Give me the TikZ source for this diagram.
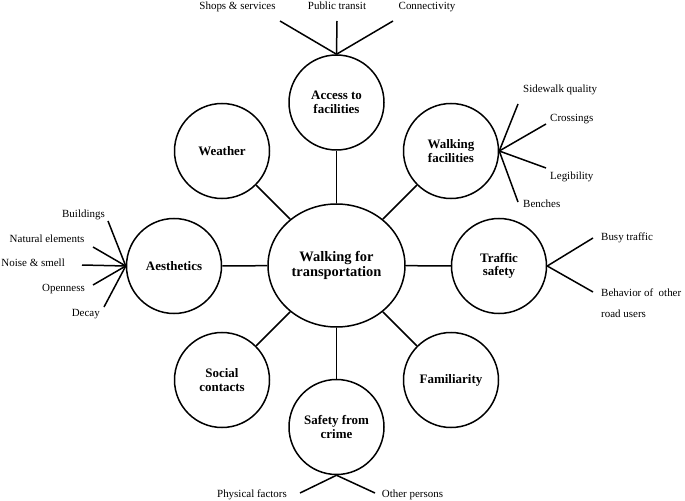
\documentclass[tikz,border=0pt]{standalone}
\usepackage{fontspec}
\setmainfont{Liberation Serif}
\usetikzlibrary{shapes.geometric}
\begin{document}
\begin{tikzpicture}[x=1bp,y=-1bp,
 factor/.style={circle,draw,line width=1.5bp,minimum size=95bp,inner sep=0pt,align=center,font=\fontsize{13}{13.5}\selectfont\bfseries},
 hub/.style={ellipse,draw,line width=1.5bp,minimum width=137bp,minimum height=123bp,inner sep=0pt,align=center,font=\fontsize{14.5}{15}\selectfont\bfseries},
 link/.style={line width=1.5bp},
 leaf/.style={font=\fontsize{11}{12}\selectfont,inner sep=0pt}]
\useasboundingbox (0,0) rectangle (685,501);

% hub and factors
\node[hub] (hub) at (336.5,265.5) {Walking for\\transportation};
\node[factor] (acc) at (336.5,102.5) {Access to\\facilities};
\node[factor] (wea) at (222,151) {Weather};
\node[factor] (wf) at (451,151) {Walking\\facilities};
\node[factor] (aes) at (174,266) {Aesthetics};
\node[factor] (ts) at (499,266) {Traffic\\safety};
\node[factor] (soc) at (222,380) {Social\\contacts};
\node[factor] (fam) at (451,380) {Familiarity};
\node[factor] (sfc) at (336.5,427) {Safety from\\crime};

\foreach \n in {acc,wea,wf,aes,ts,soc,fam,sfc}
  \draw[link] (hub) -- (\n);

% access to facilities
\coordinate (a1) at (280,21);
\coordinate (a2) at (337,21);
\coordinate (a3) at (393,21);
\foreach \c in {a1,a2,a3} \draw[link] (acc.north) -- (\c);
\node[leaf,anchor=base] (la1) at (237.5,9.5) {Shops \& services};
\node[leaf,anchor=base] (la2) at (337,9.5) {Public transit};
\node[leaf,anchor=base] (la3) at (427,9.5) {Connectivity};

% walking facilities
\coordinate (w1) at (518,104);
\coordinate (w2) at (546,124);
\coordinate (w3) at (546,168);
\coordinate (w4) at (518,202);
\foreach \c in {w1,w2,w3,w4} \draw[link] (wf.east) -- (\c);
\node[leaf,anchor=base west] (lw1) at (523,93) {Sidewalk quality};
\node[leaf,anchor=base west] (lw2) at (550,122) {Crossings};
\node[leaf,anchor=base west] (lw3) at (550,180) {Legibility};
\node[leaf,anchor=base west] (lw4) at (523,208) {Benches};

% traffic safety
\coordinate (t1) at (593,238);
\coordinate (t2) at (593,292);
\foreach \c in {t1,t2} \draw[link] (ts.east) -- (\c);
\node[leaf,anchor=base west] (lt1) at (601,241) {Busy traffic};
\node[leaf,anchor=base west] (lt2) at (601,296) {Behavior of~~other};
\node[leaf,anchor=base west] (lt3) at (601,317) {road users};

% aesthetics
\coordinate (e1) at (108,221);
\coordinate (e2) at (93,247);
\coordinate (e3) at (82,265);
\coordinate (e4) at (93,285);
\coordinate (e5) at (104,307);
\foreach \c in {e1,e2,e3,e4,e5} \draw[link] (aes.west) -- (\c);
\node[leaf,anchor=base east] (le1) at (105,218) {Buildings};
\node[leaf,anchor=base east] (le2) at (84.5,243) {Natural elements};
\node[leaf,anchor=base east] (le3) at (65,267) {Noise \& smell};
\node[leaf,anchor=base east] (le4) at (85,291) {Openness};
\node[leaf,anchor=base east] (le5) at (100,316) {Decay};

% safety from crime
\coordinate (s1) at (300,493);
\coordinate (s2) at (375,493);
\foreach \c in {s1,s2} \draw[link] (sfc.south) -- (\c);
\node[leaf,anchor=base] (ls1) at (252,497) {Physical factors};
\node[leaf,anchor=base] (ls2) at (412.5,497) {Other persons};
\end{tikzpicture}
\end{document}
